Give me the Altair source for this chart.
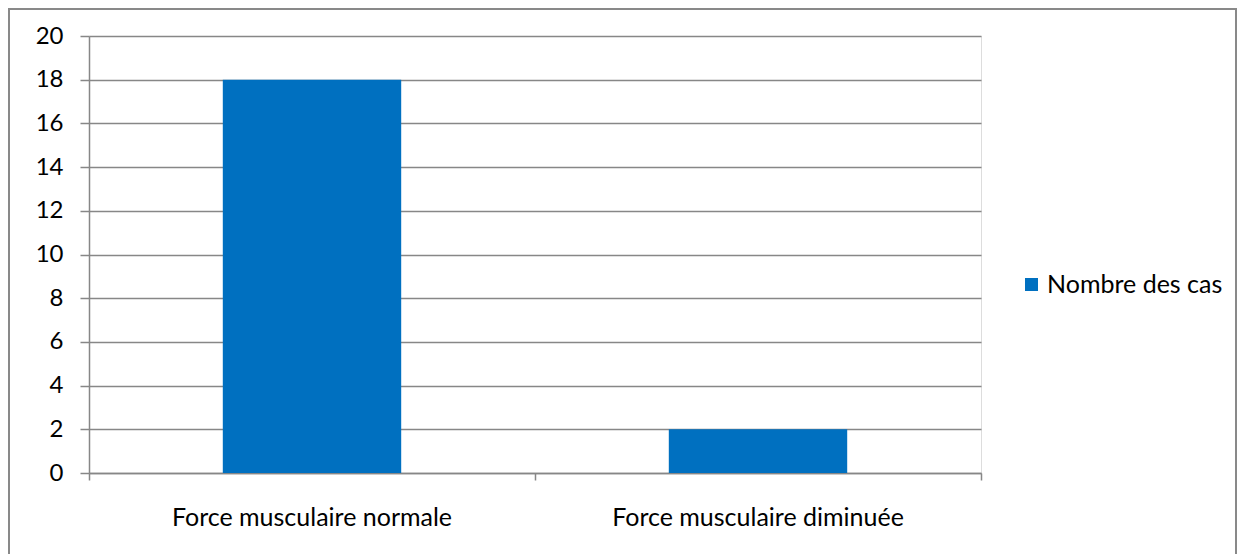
import altair as alt
import pandas as pd

categories = ["Force musculaire normale", "Force musculaire diminuée"]
values = [18, 2]
series_name = "Nombre des cas"
y_ticks = [0, 2, 4, 6, 8, 10, 12, 14, 16, 18, 20]

df = pd.DataFrame({"cat": categories, "val": values, "serie": [series_name] * len(categories)})

FONT = "Lato"
GRAY = "#878787"

bars = alt.Chart(df).mark_bar(width={"band": 0.4}).encode(
    x=alt.X("cat:N", sort=categories, title=None,
            scale=alt.Scale(paddingInner=0, paddingOuter=0),
            axis=alt.Axis(labelAngle=0, bandPosition=1, tickExtra=True,
                          tickSize=7, tickColor=GRAY, domainColor=GRAY, tickWidth=1.5,
                          domainWidth=1.5, labelPadding=25, labelFontSize=25,
                          labelLimit=0, labelFont=FONT, labelColor="#000000", grid=False)),
    y=alt.Y("val:Q", title=None,
            scale=alt.Scale(domain=[0, 20], nice=False),
            axis=alt.Axis(values=y_ticks, tickSize=9, tickColor=GRAY, domainColor=GRAY,
                          tickWidth=1.5, domainWidth=1.5, gridColor=GRAY, gridWidth=1.5,
                          labelPadding=17, labelFontSize=24, labelFont=FONT,
                          labelColor="#000000")),
    color=alt.Color("serie:N", title=None,
                    scale=alt.Scale(domain=[series_name], range=["#0070C0"]),
                    legend=alt.Legend(orient="none", legendX=930, legendY=236,
                                      symbolType="square", symbolSize=169,
                                      symbolStrokeWidth=0, labelFontSize=25,
                                      labelFont=FONT, labelColor="#000000",
                                      labelLimit=0, labelOffset=3)),
)

frame = alt.Chart(pd.DataFrame({"k": [0]})).mark_rect(
    fill=None, stroke="#898989", strokeWidth=2
).encode(
    x=alt.value(-80), x2=alt.value(1147), y=alt.value(-27), y2=alt.value(620)
)

chart = alt.layer(frame, bars).properties(
    width=892, height=437,
    padding={"left": 81, "top": 28, "right": 256, "bottom": 81},
    autosize=alt.AutoSizeParams(type="none"),
).configure_view(stroke=None).configure(background="white")

chart.save("out.html", embed_options={"renderer": "svg", "actions": False})
